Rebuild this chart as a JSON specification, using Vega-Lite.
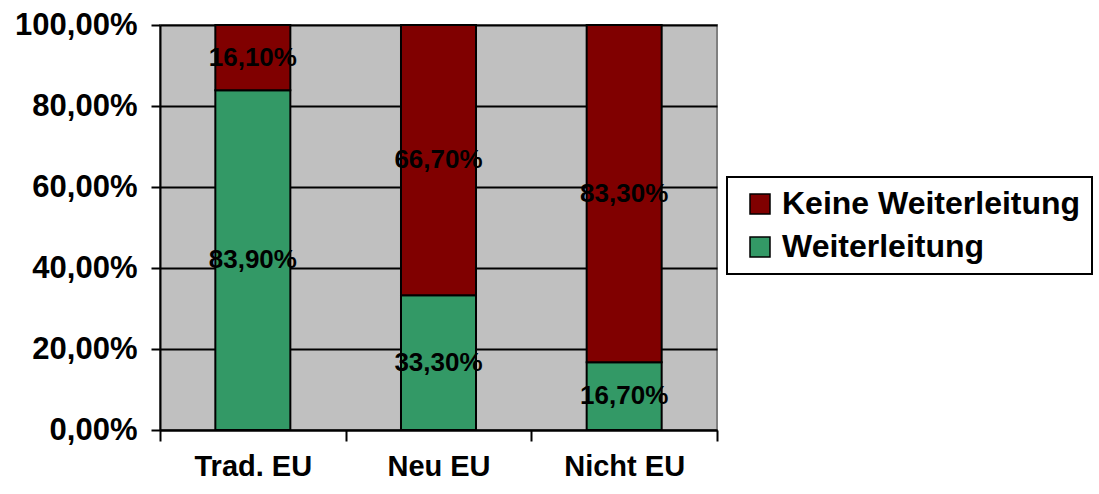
{
  "$schema": "https://vega.github.io/schema/vega-lite/v6.json",
  "width": 557,
  "height": 405,
  "autosize": {"type": "none"},
  "padding": {"left": 160, "top": 25, "right": 382, "bottom": 64},
  "background": "white",
  "config": {
    "locale": {"number": {"decimal": ",", "thousands": ".", "grouping": [3], "currency": ["", " €"]}},
    "font": "Liberation Sans",
    "view": {"fill": "#C0C0C0", "stroke": "#808080", "strokeWidth": 2}
  },
  "data": {
    "values": [
      {"region": "Trad. EU", "series": "Weiterleitung", "share": 0.839},
      {"region": "Trad. EU", "series": "Keine Weiterleitung", "share": 0.161},
      {"region": "Neu EU", "series": "Weiterleitung", "share": 0.333},
      {"region": "Neu EU", "series": "Keine Weiterleitung", "share": 0.667},
      {"region": "Nicht EU", "series": "Weiterleitung", "share": 0.167},
      {"region": "Nicht EU", "series": "Keine Weiterleitung", "share": 0.833}
    ]
  },
  "transform": [
    {"stack": "share", "groupby": ["region"], "sort": [{"field": "series", "order": "descending"}], "as": ["lo", "hi"]},
    {"calculate": "(datum.lo + datum.hi) / 2", "as": "mid"}
  ],
  "encoding": {
    "x": {
      "field": "region", "type": "nominal", "sort": ["Trad. EU", "Neu EU", "Nicht EU"],
      "scale": {"paddingInner": 0, "paddingOuter": 0},
      "axis": {
        "title": null, "labelAngle": 0, "tickBand": "extent",
        "domainColor": "black", "domainWidth": 2,
        "tickColor": "black", "tickWidth": 2, "tickSize": 11,
        "labelFont": "Liberation Sans", "labelFontWeight": "bold", "labelFontSize": 29,
        "labelColor": "black", "labelPadding": 11
      }
    }
  },
  "layer": [
    {
      "mark": {"type": "bar", "stroke": "black", "strokeWidth": 2, "width": {"band": 0.404}},
      "encoding": {
        "y": {
          "field": "lo", "type": "quantitative",
          "scale": {"domain": [0, 1], "nice": false},
          "axis": {
            "title": null, "format": ".2%", "values": [0, 0.2, 0.4, 0.6, 0.8, 1],
            "grid": true, "gridColor": "black", "gridWidth": 2, "gridOpacity": 1,
            "domainColor": "black", "domainWidth": 2,
            "tickColor": "black", "tickWidth": 2, "tickSize": 9,
            "labelFont": "Liberation Sans", "labelFontWeight": "bold", "labelFontSize": 31,
            "labelColor": "black", "labelPadding": 14
          }
        },
        "y2": {"field": "hi"},
        "color": {
          "field": "series", "type": "nominal",
          "scale": {"domain": ["Keine Weiterleitung", "Weiterleitung"], "range": ["#800000", "#339966"]},
          "legend": {
            "title": null, "orient": "none", "legendX": 567, "legendY": 152,
            "fillColor": "white", "strokeColor": "black",
            "padding": 11, "symbolOffset": 6, "symbolType": "square", "symbolSize": 400,
            "symbolStrokeColor": "black", "symbolStrokeWidth": 1.5, "symbolOpacity": 1,
            "labelFont": "Liberation Sans", "labelFontWeight": "bold", "labelFontSize": 32,
            "labelColor": "black", "labelOffset": 6, "rowPadding": 11, "labelLimit": 400,
            "encode": {"legend": {"update": {"strokeWidth": {"value": 2}}}}
          }
        }
      }
    },
    {
      "mark": {"type": "text", "font": "Liberation Sans", "fontWeight": "bold", "fontSize": 26, "color": "black", "baseline": "middle", "align": "center"},
      "encoding": {
        "y": {"field": "mid", "type": "quantitative"},
        "text": {"field": "share", "type": "quantitative", "format": ".2%"}
      }
    }
  ]
}
